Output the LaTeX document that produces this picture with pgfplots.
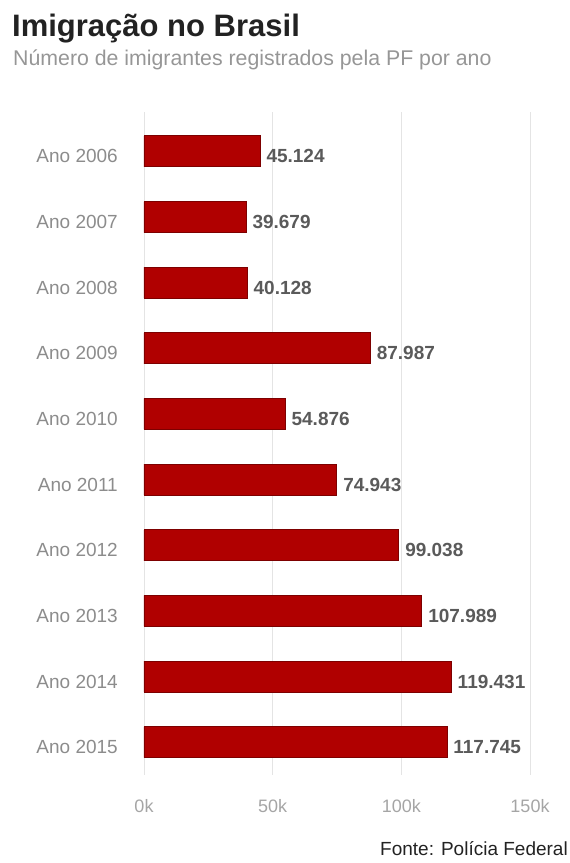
\documentclass[border=0pt]{standalone}
\usepackage{fontspec}
\setmainfont{Liberation Sans}
\usepackage{pgfplots}
\pgfplotsset{compat=1.18}
\definecolor{barred}{RGB}{176,0,0}
\definecolor{baredge}{RGB}{125,0,0}
\definecolor{catgray}{RGB}{140,140,140}
\definecolor{tickgray}{RGB}{165,165,165}
\definecolor{valgray}{RGB}{90,90,90}
\definecolor{titlecol}{RGB}{34,34,34}
\definecolor{subcol}{RGB}{150,150,150}
\definecolor{gridcol}{RGB}{228,228,228}
\begin{document}
\begin{tikzpicture}
\path[use as bounding box] (0pt,0pt) rectangle (570pt,863pt);
\node[anchor=base west, inner sep=0pt, font=\fontsize{31}{33}\selectfont\bfseries, text=titlecol] at (12pt,826pt) {Imigração no Brasil};
\node[anchor=base west, inner sep=0pt, font=\fontsize{21.3}{23}\selectfont, text=subcol] at (13pt,797pt) {Número de imigrantes registrados pela PF por ano};
\node[anchor=base east, inner sep=0pt, font=\fontsize{19}{21}\selectfont, text=titlecol] at (568pt,8pt) {Fonte: Polícia Federal};
\begin{axis}[
  at={(144pt,88pt)}, anchor=south west,
  scale only axis, width=386pt, height=663pt,
  xbar, bar width=31pt,
  xmin=0, xmax=150000,
  ymin=-0.6, ymax=9.5,
  y dir=reverse,
  ytick={0,...,9},
  yticklabels={Ano 2006,Ano 2007,Ano 2008,Ano 2009,Ano 2010,Ano 2011,Ano 2012,Ano 2013,Ano 2014,Ano 2015},
  xtick={0,50000,100000,150000},
  xticklabels={0k,50k,100k,150k},
  scaled x ticks=false,
  major tick length=0pt,
  axis line style={draw=none},
  xmajorgrids, major grid style={gridcol, line width=0.8pt},
  tick label style={inner sep=0pt},
  yticklabel style={font=\fontsize{19}{21}\selectfont, text=catgray, xshift=-26pt, yshift=-5pt},
  xticklabel style={font=\fontsize{18}{20}\selectfont, text=tickgray, yshift=-24pt},
  nodes near coords,
  point meta=explicit symbolic,
  nodes near coords style={anchor=west, inner sep=0pt, xshift=6pt, yshift=-5pt, font=\fontsize{19}{21}\selectfont\bfseries, text=valgray},
]
\addplot[fill=barred, draw=baredge, line width=0.8pt] coordinates {
  (45124,0) [45.124]
  (39679,1) [39.679]
  (40128,2) [40.128]
  (87987,3) [87.987]
  (54876,4) [54.876]
  (74943,5) [74.943]
  (99038,6) [99.038]
  (107989,7) [107.989]
  (119431,8) [119.431]
  (117745,9) [117.745]
};
\end{axis}
\end{tikzpicture}
\end{document}
